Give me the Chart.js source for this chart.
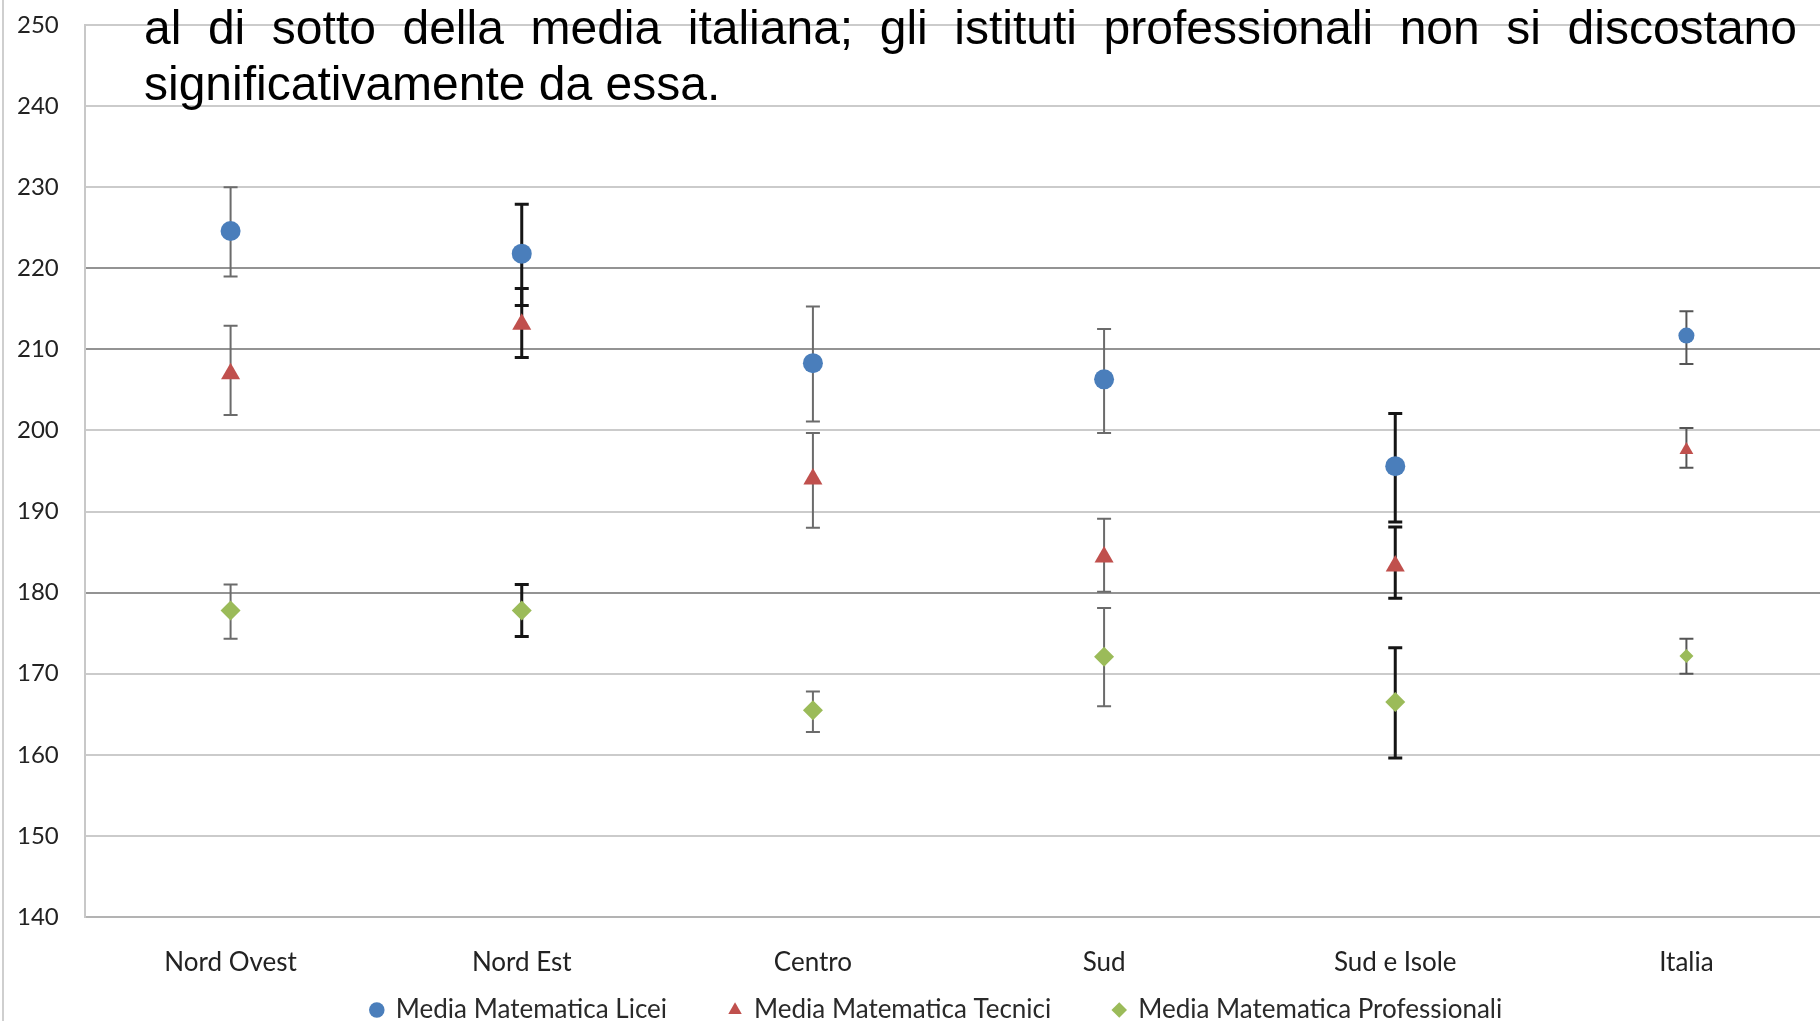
<!DOCTYPE html>
<html>
<head>
<meta charset="utf-8">
<script src="https://cdn.jsdelivr.net/npm/chart.js@4.4.1/dist/chart.umd.min.js"></script>
<style>
  html, body { margin: 0; padding: 0; background: #fff; overflow: hidden; }
  .wrap { position: relative; width: 1820px; height: 1021px; overflow: hidden; background: #fff; }
  .frame { position: absolute; left: 2px; top: 0; width: 2px; height: 1021px; background: #cfcfcf; }
  #myChart { position: absolute; left: 0; top: 0; }
  .testo {
    position: absolute; left: 144px; top: 0px; width: 1653px;
    font-family: "Liberation Sans", Arial, sans-serif; font-size: 48px; line-height: 56px; color: #000;
  }
  .riga1 { text-align: justify; text-align-last: justify; }
</style>
</head>
<body>
<div class="wrap">
  <div class="frame"></div>
  <canvas id="myChart" width="1843" height="1085" style="width:1843px;height:1085px"></canvas>
  <div class="testo">
    <div class="riga1">al di sotto della media italiana; gli istituti professionali non si discostano</div>
    <div>significativamente da essa.</div>
  </div>
</div>
<script>
// categorie (aree geografiche)
const categories = ["Nord Ovest", "Nord Est", "Centro", "Sud", "Sud e Isole", "Italia"];
const yTicks = [140, 150, 160, 170, 180, 190, 200, 210, 220, 230, 240, 250];

// Licei
const liceiMean = [224.6, 221.8, 208.3, 206.3, 195.6, 211.7];
const liceiLow  = [219.0, 215.4, 201.1, 199.7, 188.7, 208.2];
const liceiHigh = [230.0, 227.9, 215.3, 212.5, 202.1, 214.7];
// Tecnici
const tecniciMean = [207.0, 213.1, 194.0, 184.4, 183.3, 197.6];
const tecniciLow  = [201.9, 209.0, 188.0, 180.1, 179.3, 195.4];
const tecniciHigh = [212.9, 217.5, 199.7, 189.1, 188.1, 200.3];
// Professionali
const profMean = [177.8, 177.8, 165.5, 172.1, 166.5, 172.2];
const profLow  = [174.3, 174.6, 162.8, 166.0, 159.6, 170.0];
const profHigh = [181.0, 181.0, 167.8, 178.1, 173.2, 174.3];

// stile barre di errore (grigie o nere come nell'originale)
const errColors = ["#6b6b6b", "#151515", "#6b6b6b", "#6b6b6b", "#151515", "#555555"];
const errWidths = [2, 3, 2, 2, 3, 2];
const darkGrid = [220, 210, 180];

const errorBars = {
  id: "errorBars",
  beforeDatasetsDraw(chart) {
    const ctx = chart.ctx;
    const xs = chart.scales.x;
    const ys = chart.scales.y;
    const ranges = [[liceiLow, liceiHigh], [tecniciLow, tecniciHigh], [profLow, profHigh]];
    ranges.forEach(function (r) {
      for (let i = 0; i < categories.length; i++) {
        const px = xs.getPixelForValue(i);
        const top = ys.getPixelForValue(r[1][i]);
        const bot = ys.getPixelForValue(r[0][i]);
        ctx.save();
        ctx.strokeStyle = errColors[i];
        ctx.lineWidth = errWidths[i];
        ctx.beginPath();
        ctx.moveTo(px, top); ctx.lineTo(px, bot);
        ctx.moveTo(px - 7, top); ctx.lineTo(px + 7, top);
        ctx.moveTo(px - 7, bot); ctx.lineTo(px + 7, bot);
        ctx.stroke();
        ctx.restore();
      }
    });
  }
};

// la legenda sta sotto le etichette, un po' spostata a destra
const legendPos = {
  id: "legendPos",
  afterLayout(chart) {
    const lg = chart.legend;
    const h = lg.bottom - lg.top;
    lg.left += 10;
    lg.right += 10;
    lg.top = 935;
    lg.bottom = 935 + h;
  }
};

const fontFam = "Lato, 'Open Sans', sans-serif";

var ctx = document.getElementById("myChart").getContext("2d");
var chart = new Chart(ctx, {
  type: "line",
  data: {
    labels: categories,
    datasets: [
      {
        label: "Media Matematica Licei",
        data: liceiMean,
        showLine: false,
        pointStyle: "circle",
        pointRadius: [10, 10, 10, 10, 10, 8],
        backgroundColor: "#4a7ebb",
        borderColor: "#4a7ebb",
        pointBorderWidth: 0
      },
      {
        label: "Media Matematica Tecnici",
        data: tecniciMean,
        showLine: false,
        pointStyle: "triangle",
        pointRadius: [11, 11, 11, 11, 11, 8],
        backgroundColor: "#c0504d",
        borderColor: "#c0504d",
        pointBorderWidth: 0
      },
      {
        label: "Media Matematica Professionali",
        data: profMean,
        showLine: false,
        pointStyle: "rectRot",
        pointRadius: [10, 10, 10, 10, 10, 7],
        backgroundColor: "#9bbb59",
        borderColor: "#9bbb59",
        pointBorderWidth: 0
      }
    ]
  },
  options: {
    responsive: false,
    animation: false,
    devicePixelRatio: 1,
    layout: { padding: { left: 17, right: 7, top: 25, bottom: 0 } },
    plugins: {
      tooltip: { enabled: false },
      legend: {
        position: "bottom",
        labels: {
          usePointStyle: true,
          boxWidth: 12,
          boxHeight: 11,
          padding: 62,
          color: "#2a2a2a",
          font: { family: fontFam, size: 26 }
        }
      }
    },
    scales: {
      x: {
        type: "category",
        offset: true,
        grid: { display: false },
        border: { display: true, color: "#b3b3b3", width: 2 },
        ticks: { color: "#222", font: { family: fontFam, size: 26 }, padding: 22 },
        afterFit: function (s) { s.height = 70; }
      },
      y: {
        min: 140,
        max: 250,
        afterBuildTicks: function (s) { s.ticks = yTicks.map(function (v) { return { value: v }; }); },
        grid: {
          drawTicks: false,
          lineWidth: 2,
          color: function (c) { return darkGrid.includes(c.tick && c.tick.value) ? "#939393" : "#cbcbcb"; }
        },
        border: { display: true, color: "#c8c8c8", width: 2 },
        ticks: { color: "#222", font: { family: fontFam, size: 24 }, padding: 0, crossAlign: "far" },
        afterFit: function (s) { s.width = 68; }
      }
    }
  },
  plugins: [errorBars, legendPos]
});
</script>
</body>
</html>
